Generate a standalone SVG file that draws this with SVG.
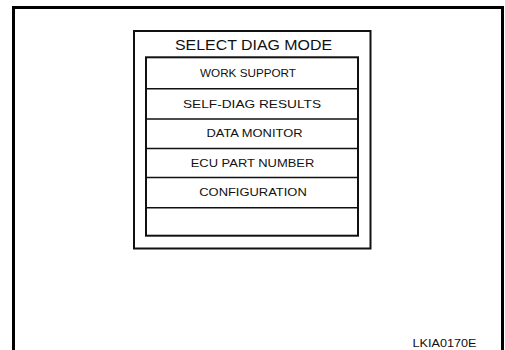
<svg xmlns="http://www.w3.org/2000/svg" width="505" height="350" viewBox="0 0 505 350">
<style>
.t{font-family:"Liberation Sans",Arial,sans-serif;fill:#111;text-anchor:middle}
.row{font-size:11px}
.sep{stroke:#111;stroke-width:1.5;fill:none}
.box{fill:none;stroke:#111;stroke-width:2}
</style>
<rect width="505" height="350" fill="#fff"/>
<path d="M13.5,350 V7.5 H502.5 V350" fill="none" stroke="#000" stroke-width="3"/>
<g id="screen">
<rect class="box" x="134" y="31" width="236.5" height="217.5"/>
<text class="t" x="253.5" y="50" font-size="15" textLength="157" lengthAdjust="spacingAndGlyphs">SELECT DIAG MODE</text>
</g>
<g id="menu">
<rect class="box" x="146" y="57.3" width="212" height="178.4"/>
<line class="sep" x1="146" y1="88.7" x2="358" y2="88.7"/>
<line class="sep" x1="146" y1="119" x2="358" y2="119"/>
<line class="sep" x1="146" y1="148.5" x2="358" y2="148.5"/>
<line class="sep" x1="146" y1="177.6" x2="358" y2="177.6"/>
<line class="sep" x1="146" y1="207.7" x2="358" y2="207.7"/>
</g>
<g id="work-support"><text class="t row" x="248" y="77.3" textLength="96" lengthAdjust="spacingAndGlyphs">WORK SUPPORT</text></g>
<g id="self-diag"><text class="t row" x="252" y="107.7" textLength="138" lengthAdjust="spacingAndGlyphs">SELF-DIAG RESULTS</text></g>
<g id="data-monitor"><text class="t row" x="254.5" y="137.3" textLength="96" lengthAdjust="spacingAndGlyphs">DATA MONITOR</text></g>
<g id="ecu-part"><text class="t row" x="252.5" y="166.7" textLength="123.5" lengthAdjust="spacingAndGlyphs">ECU PART NUMBER</text></g>
<g id="configuration"><text class="t row" x="253" y="196.3" textLength="107.5" lengthAdjust="spacingAndGlyphs">CONFIGURATION</text></g>
<g id="connectors"></g>
<text class="t" x="444.5" y="346.7" font-size="10.5" textLength="64" lengthAdjust="spacingAndGlyphs">LKIA0170E</text>
</svg>
